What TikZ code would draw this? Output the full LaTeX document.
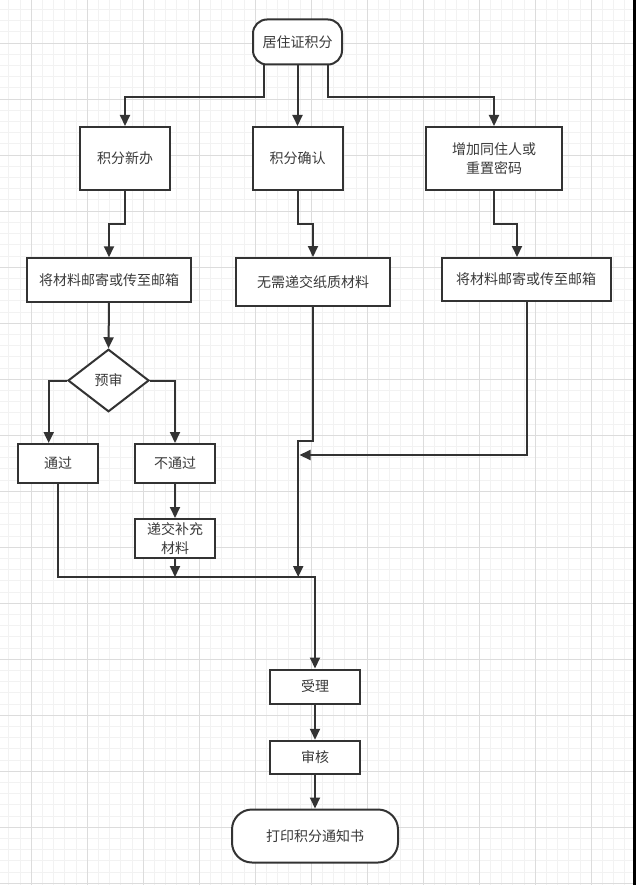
\documentclass[tikz,border=0pt]{standalone}
\usepackage{fontspec}
\setmainfont{Noto Sans CJK SC}
\usetikzlibrary{arrows.meta,shapes.geometric}
\definecolor{ink}{HTML}{333333}
\definecolor{txt}{HTML}{3A3A3A}
\definecolor{gridminor}{HTML}{F2F2F2}
\definecolor{gridmajor}{HTML}{DCDCDC}
\tikzset{
  box/.style={draw=ink, line width=2pt, fill=white, text=txt, align=center, inner sep=0pt, font=\fontsize{14}{19}\selectfont},
  term/.style={box, rounded corners=14pt},
  decide/.style={box, diamond, aspect=1.3},
  arr/.style={draw=ink, line width=2pt, -{Triangle[length=11pt,width=10pt]}},
}
\begin{document}
\begin{tikzpicture}[x=1pt,y=-1pt]
\useasboundingbox (0,0) rectangle (636,885);
\fill[white] (0,0) rectangle (636,885);
% grid
\foreach \i in {0,...,56} {
  \draw[gridminor, line width=0.6pt] ({8.6+\i*11.2},0) -- ({8.6+\i*11.2},885);
}
\foreach \i in {0,...,79} {
  \draw[gridminor, line width=0.6pt] (0,{9.4+\i*11.2}) -- (636,{9.4+\i*11.2});
}
\foreach \i in {0,...,11} {
  \draw[gridmajor, line width=0.7pt] ({31+\i*56},0) -- ({31+\i*56},885);
}
\foreach \i in {0,...,15} {
  \draw[gridmajor, line width=0.7pt] (0,{43+\i*56}) -- (636,{43+\i*56});
}
\fill[black] (633,0) rectangle (636,885);

% nodes
\node[term, minimum width=89pt, minimum height=45pt] (top) at (297.5,42) {居住证积分};
\node[box, minimum width=90pt, minimum height=63pt] (xb) at (125,158.5) {积分新办};
\node[box, minimum width=90pt, minimum height=63pt] (qr) at (297.5,158.5) {积分确认};
\node[box, minimum width=136pt, minimum height=63pt] (zj) at (494,158.5) {增加同住人或\\重置密码};
\node[box, minimum width=163.5pt, minimum height=43.5pt] (cl1) at (109,280) {将材料邮寄或传至邮箱};
\node[box, minimum width=154pt, minimum height=48pt] (wx) at (313,282) {无需递交纸质材料};
\node[box, minimum width=169pt, minimum height=43pt] (cl2) at (526,279.5) {将材料邮寄或传至邮箱};
\node[decide, minimum width=81pt, minimum height=62.5pt] (ys) at (108.5,380.5) {预审};
\node[box, minimum width=80.5pt, minimum height=39pt] (tg) at (58,463.5) {通过};
\node[box, minimum width=80.5pt, minimum height=39pt] (btg) at (175,463.5) {不通过};
\node[box, minimum width=80.5pt, minimum height=39pt] (dj) at (175,538.5) {递交补充\\材料};
\node[box, minimum width=90pt, minimum height=34pt] (sl) at (315,686.5) {受理};
\node[box, minimum width=90pt, minimum height=33.5pt] (sh) at (315,757.5) {审核};
\node[term, rounded corners=20pt, minimum width=166pt, minimum height=53pt] (end) at (315,836) {打印积分通知书};

\coordinate (jn) at (315,576.5);
\coordinate (jd) at (175,577);
\coordinate (j2) at (298.2,577);
\coordinate (j3) at (299.5,455);

% connectors
\draw[arr] ([xshift=-34pt]top.south) -- ++(0,31.4) -| (xb.north);
\draw[arr] (top.south) -- (qr.north);
\draw[arr] ([xshift=30.3pt]top.south) -- ++(0,31.4) -| (zj.north);
\draw[arr] (xb.south) -- ++(0,33) -| (cl1.north);
\draw[arr] (qr.south) -- ++(0,33) -| (wx.north);
\draw[arr] (zj.south) -- ++(0,33) -| ([xshift=-9pt]cl2.north);
\draw[arr] (cl1.south) -- (ys.north);
\draw[arr] (ys.west) -| ([xshift=-9.3pt]tg.north);
\draw[arr] (ys.east) -| (btg.north);
\draw[arr] (btg.south) -- (dj.north);
\draw[arr] (dj.south) -- (jd);
\draw[arr] (wx.south) -- ++(0,134) -| (j2);
\draw[arr] ([xshift=0.6pt]cl2.south) |- (j3);
\draw[arr] (tg.south) |- (jn) -- (sl.north);
\draw[arr] (sl.south) -- (sh.north);
\draw[arr] (sh.south) -- (end.north);
\end{tikzpicture}
\end{document}
